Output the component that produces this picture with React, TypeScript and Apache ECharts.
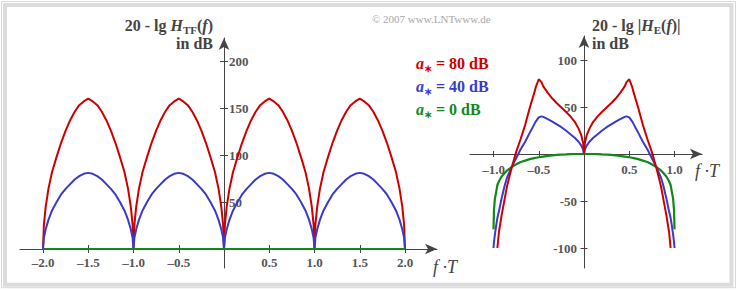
import React, { useEffect, useRef } from 'react';
import * as echarts from 'echarts';

// ---------- data ----------
const LEFT_F = [
  -2, -1.99, -1.97, -1.94, -1.9, -1.85, -1.8, -1.75, -1.7, -1.65, -1.6, -1.55, -1.5, -1.45, -1.4, -1.35, -1.3, -1.25, -1.2, -1.15, -1.1, -1.06, -1.03, -1.01,
  -1, -0.99, -0.97, -0.94, -0.9, -0.85, -0.8, -0.75, -0.7, -0.65, -0.6, -0.55, -0.5, -0.45, -0.4, -0.35, -0.3, -0.25, -0.2, -0.15, -0.1, -0.06, -0.03, -0.01,
  0, 0.01, 0.03, 0.06, 0.1, 0.15, 0.2, 0.25, 0.3, 0.35, 0.4, 0.45, 0.5, 0.55, 0.6, 0.65, 0.7, 0.75, 0.8, 0.85, 0.9, 0.94, 0.97, 0.99,
  1, 1.01, 1.03, 1.06, 1.1, 1.15, 1.2, 1.25, 1.3, 1.35, 1.4, 1.45, 1.5, 1.55, 1.6, 1.65, 1.7, 1.75, 1.8, 1.85, 1.9, 1.94, 1.97, 1.99, 2,
];
const LEFT_RED = [
  0, 26, 45, 64, 82, 98, 113, 126, 137, 146, 153, 157, 160, 157, 153, 146, 137, 126, 113, 98, 82, 64, 45, 26,
  0, 26, 45, 64, 82, 98, 113, 126, 137, 146, 153, 157, 160, 157, 153, 146, 137, 126, 113, 98, 82, 64, 45, 26,
  0, 26, 45, 64, 82, 98, 113, 126, 137, 146, 153, 157, 160, 157, 153, 146, 137, 126, 113, 98, 82, 64, 45, 26,
  0, 26, 45, 64, 82, 98, 113, 126, 137, 146, 153, 157, 160, 157, 153, 146, 137, 126, 113, 98, 82, 64, 45, 26, 0,
];
const LEFT_BLUE = [
  0, 12, 21, 31, 41, 50, 58, 64, 69, 74, 77.5, 80, 81, 80, 77.5, 74, 69, 64, 58, 50, 41, 31, 21, 12,
  0, 12, 21, 31, 41, 50, 58, 64, 69, 74, 77.5, 80, 81, 80, 77.5, 74, 69, 64, 58, 50, 41, 31, 21, 12,
  0, 12, 21, 31, 41, 50, 58, 64, 69, 74, 77.5, 80, 81, 80, 77.5, 74, 69, 64, 58, 50, 41, 31, 21, 12,
  0, 12, 21, 31, 41, 50, 58, 64, 69, 74, 77.5, 80, 81, 80, 77.5, 74, 69, 64, 58, 50, 41, 31, 21, 12, 0,
];
const LEFT_GREEN_F = [-2, 2];
const LEFT_GREEN = [0, 0];
const LEFT_X_TICKS = [-2, -1.5, -1, -0.5, 0.5, 1, 1.5, 2];
const LEFT_Y_TICKS = [50, 100, 150, 200];

const RIGHT_F = [
  -1, -0.995, -0.985, -0.97, -0.957, -0.94, -0.91, -0.875, -0.85, -0.8, -0.75, -0.7, -0.65, -0.6, -0.55, -0.53, -0.5, -0.47, -0.45, -0.4, -0.35, -0.3, -0.25, -0.2, -0.15, -0.1, -0.06, -0.03, -0.01,
  0,
  0.01, 0.03, 0.06, 0.1, 0.15, 0.2, 0.25, 0.3, 0.35, 0.4, 0.45, 0.47, 0.5, 0.53, 0.55, 0.6, 0.65, 0.7, 0.75, 0.8, 0.85, 0.875, 0.91, 0.94, 0.957, 0.97, 0.985, 0.995, 1,
];
const RIGHT_RED = [
  null, null, null, null, -100, -83, -65, -47, -34, -15, 2, 16, 31, 49, 65, 72, 79.5, 76.5, 72, 65, 59, 54, 49.5, 45, 40, 34, 27, 20, 12,
  0,
  12, 20, 27, 34, 40, 45, 49.5, 54, 59, 65, 72, 76.5, 79.5, 72, 65, 49, 31, 16, 2, -15, -34, -47, -65, -83, -100, null, null, null, null,
];
const RIGHT_BLUE = [
  -100, -94, -86, -76, -68, -61, -47, -33, -25, -14, -4.5, 5, 13, 22.5, 31.5, 35, 39, 40, 39.5, 37, 34.5, 31.5, 28.5, 25, 21, 17, 13, 9, 5,
  0,
  5, 9, 13, 17, 21, 25, 28.5, 31.5, 34.5, 37, 39.5, 40, 39, 35, 31.5, 22.5, 13, 5, -4.5, -14, -25, -33, -47, -61, -68, -76, -86, -94, -100,
];
const RIGHT_GREEN = [
  -80, -60, -48, -40, -33, -29, -24, -20, -17.5, -14, -11, -8.5, -7, -5.5, -4.4, -4, -3.5, -3, -2.7, -2, -1.4, -1, -0.7, -0.5, -0.2, 0, 0, 0, 0,
  0,
  0, 0, 0, 0, -0.2, -0.5, -0.7, -1, -1.4, -2, -2.7, -3, -3.5, -4, -4.4, -5.5, -7, -8.5, -11, -14, -17.5, -20, -24, -29, -33, -40, -48, -60, -80,
];
const RIGHT_X_TICKS = [-1, -0.5, 0.5, 1];
const RIGHT_Y_TICKS = [-100, -50, 50, 100];

const LEGEND_LABELS = [' = 80 dB', ' = 40 dB', ' = 0 dB'];

// ---------- styling / layout ----------
const SERIF = "'Liberation Serif', 'Times New Roman', serif";
const AXIS = '#444';
const LABEL = '#555';
const RED = '#cc0000';
const BLUE = '#3a3acc';
const GREEN = '#12881a';
const PX_F = 90.5;
const PX_DB = 0.94;

const pairs = (xs: number[], ys: (number | null)[]) => xs.map((x, i) => [x, ys[i]]);

const fmtX = (v: number) => (v < 0 ? '\u2013' + Math.abs(v).toFixed(1) : v.toFixed(1));
const fmtYRight = (v: number) => (v < 0 ? '-' + Math.abs(v) : String(v));

function xPair(gridIndex: number, offset: number, min: number, max: number, ticks: number[], margin: number, tickLen: number) {
  const main = {
    type: 'value', gridIndex, min, max, position: 'bottom', offset,
    axisLine: { show: true, onZero: false, symbol: ['none', 'arrow'], symbolSize: [8, 12], lineStyle: { color: AXIS, width: 1 } },
    axisTick: { show: true, inside: false, length: tickLen, customValues: ticks, lineStyle: { color: AXIS, width: 1 } },
    axisLabel: { show: true, customValues: ticks, formatter: fmtX, margin, color: LABEL, fontFamily: SERIF, fontWeight: 'bold', fontSize: 13 },
    splitLine: { show: false },
  };
  const sec = {
    type: 'value', gridIndex, min, max, position: 'bottom', offset,
    axisLine: { show: false, onZero: false },
    axisTick: { show: true, inside: true, length: tickLen, customValues: ticks, lineStyle: { color: AXIS, width: 1 } },
    axisLabel: { show: false },
    splitLine: { show: false },
  };
  return [main, sec];
}

function yPair(gridIndex: number, offset: number, min: number, max: number, ticks: number[], margin: number, tickLen: number, labelInside: boolean, fmt: (v: number) => string) {
  const main = {
    type: 'value', gridIndex, min, max, position: 'left', offset,
    axisLine: { show: true, onZero: false, symbol: ['none', 'arrow'], symbolSize: [8, 12], lineStyle: { color: AXIS, width: 1 } },
    axisTick: { show: true, inside: false, length: tickLen, customValues: ticks, lineStyle: { color: AXIS, width: 1 } },
    axisLabel: { show: true, inside: labelInside, customValues: ticks, formatter: fmt, margin, color: LABEL, fontFamily: SERIF, fontWeight: 'bold', fontSize: 13 },
    splitLine: { show: false },
  };
  const sec = {
    type: 'value', gridIndex, min, max, position: 'left', offset,
    axisLine: { show: false, onZero: false },
    axisTick: { show: true, inside: true, length: tickLen, customValues: ticks, lineStyle: { color: AXIS, width: 1 } },
    axisLabel: { show: false },
    splitLine: { show: false },
  };
  return [main, sec];
}

function titleRich(color: string) {
  return {
    n: { fontFamily: SERIF, fontSize: 16, fontWeight: 'bold', fill: color, lineHeight: 20 },
    i: { fontFamily: SERIF, fontSize: 16, fontWeight: 'bold', fontStyle: 'italic', fill: color, lineHeight: 20 },
    s: { fontFamily: SERIF, fontSize: 11, fontWeight: 'bold', fill: color, verticalAlign: 'bottom' },
  };
}

function legendRich(color: string) {
  return {
    n: { fontFamily: SERIF, fontSize: 16, fontWeight: 'bold', fill: color, lineHeight: 20 },
    i: { fontFamily: SERIF, fontSize: 16, fontWeight: 'bold', fontStyle: 'italic', fill: color, lineHeight: 20 },
    s: { fontFamily: SERIF, fontSize: 10, fontWeight: 'bold', fill: color, verticalAlign: 'bottom' },
  };
}

export default function App() {
  const ref = useRef<HTMLDivElement>(null);
  useEffect(() => {
    document.body.style.margin = '0';
    if (!ref.current) return;
    const chart = echarts.init(ref.current, null, { renderer: 'svg' });

    // left panel geometry (pixel positions of origin and axis extents)
    const L0x = 224, L0y = 249, Lleft = 20, Lright = 437, Ltop = 38, Lbottom = 268;
    // right panel geometry
    const R0x = 584, R0y = 154, Rleft = 470, Rright = 702, Rtop = 36, Rbottom = 268;

    const [lx, lx2] = xPair(0, -(Lbottom - L0y), (Lleft - L0x) / PX_F, (Lright - L0x) / PX_F, LEFT_X_TICKS, 7, 4);
    const [ly, ly2] = yPair(0, -(L0x - Lleft), (L0y - Lbottom) / PX_DB, (L0y - Ltop) / PX_DB, LEFT_Y_TICKS, 5, 4, true, (v) => String(v));
    const [rx, rx2] = xPair(1, -(Rbottom - R0y), (Rleft - R0x) / PX_F, (Rright - R0x) / PX_F, RIGHT_X_TICKS, 9, 3);
    const [ry, ry2] = yPair(1, -(R0x - Rleft), (R0y - Rbottom) / PX_DB, (R0y - Rtop) / PX_DB, RIGHT_Y_TICKS, 7, 3.5, false, fmtYRight);

    const legendColors = [RED, BLUE, GREEN];

    const option: any = {
      animation: false,
      backgroundColor: '#ffffff',
      grid: [
        { left: Lleft, top: Ltop, width: Lright - Lleft, height: Lbottom - Ltop, containLabel: false },
        { left: Rleft, top: Rtop, width: Rright - Rleft, height: Rbottom - Rtop, containLabel: false },
      ],
      xAxis: [lx, lx2, rx, rx2],
      yAxis: [ly, ly2, ry, ry2],
      series: [
        { type: 'line', xAxisIndex: 0, yAxisIndex: 0, data: pairs(LEFT_F, LEFT_RED), showSymbol: false, lineStyle: { color: RED, width: 2 }, itemStyle: { color: RED } },
        { type: 'line', xAxisIndex: 0, yAxisIndex: 0, data: pairs(LEFT_F, LEFT_BLUE), showSymbol: false, lineStyle: { color: BLUE, width: 2 }, itemStyle: { color: BLUE } },
        { type: 'line', xAxisIndex: 0, yAxisIndex: 0, data: pairs(LEFT_GREEN_F, LEFT_GREEN), showSymbol: false, lineStyle: { color: GREEN, width: 2.2 }, itemStyle: { color: GREEN } },
        { type: 'line', xAxisIndex: 2, yAxisIndex: 2, data: pairs(RIGHT_F, RIGHT_GREEN), showSymbol: false, lineStyle: { color: GREEN, width: 2.2 }, itemStyle: { color: GREEN } },
        { type: 'line', xAxisIndex: 2, yAxisIndex: 2, data: pairs(RIGHT_F, RIGHT_BLUE), showSymbol: false, lineStyle: { color: BLUE, width: 2 }, itemStyle: { color: BLUE } },
        { type: 'line', xAxisIndex: 2, yAxisIndex: 2, data: pairs(RIGHT_F, RIGHT_RED), showSymbol: false, lineStyle: { color: RED, width: 2 }, itemStyle: { color: RED } },
      ],
      graphic: [
        { type: 'rect', silent: true, shape: { x: 1.5, y: 1.5, width: 734, height: 286.2 }, style: { fill: 'none', stroke: '#d8d8d8', lineWidth: 1 } },
        { type: 'rect', silent: true, shape: { x: 5, y: 5, width: 726.5, height: 279.7 }, style: { fill: 'none', stroke: '#dcdcdc', lineWidth: 4 } },
        { type: 'text', x: 372, y: 19, style: { text: '\u00a9 2007 www.LNTwww.de', fill: '#a8a8a8', font: `11px ${SERIF}`, align: 'left', verticalAlign: 'middle' } },
        { type: 'text', x: 213, y: 25, style: { text: '{n|20 - lg }{i|H}{s|TF}{n|(}{i|f}{n|)}', align: 'right', verticalAlign: 'middle', rich: titleRich('#444') } },
        { type: 'text', x: 213, y: 43.5, style: { text: 'in dB', fill: '#444', font: `bold 16px ${SERIF}`, align: 'right', verticalAlign: 'middle' } },
        { type: 'text', x: 592, y: 25, style: { text: '{n|20 - lg |}{i|H}{s|E}{n|(}{i|f}{n|)|}', align: 'left', verticalAlign: 'middle', rich: titleRich('#444') } },
        { type: 'text', x: 592, y: 43.5, style: { text: 'in dB', fill: '#444', font: `bold 16px ${SERIF}`, align: 'left', verticalAlign: 'middle' } },
        ...LEGEND_LABELS.map((lab, i) => ({
          type: 'text', x: 416, y: 63 + i * 23,
          style: { text: `{i|a}{s|\u2217}{n|${lab}}`, align: 'left', verticalAlign: 'middle', rich: legendRich(legendColors[i]) },
        })),
        { type: 'text', x: 433, y: 267, style: { text: 'f \u00b7T', fill: '#444', font: `italic 18px ${SERIF}`, align: 'left', verticalAlign: 'middle' } },
        { type: 'text', x: 695, y: 171, style: { text: 'f \u00b7T', fill: '#444', font: `italic 18px ${SERIF}`, align: 'left', verticalAlign: 'middle' } },
      ],
    };
    chart.setOption(option);
    return () => chart.dispose();
  }, []);
  return <div ref={ref} style={{ width: 739, height: 291, position: 'absolute', left: 0, top: 0 }} />;
}
